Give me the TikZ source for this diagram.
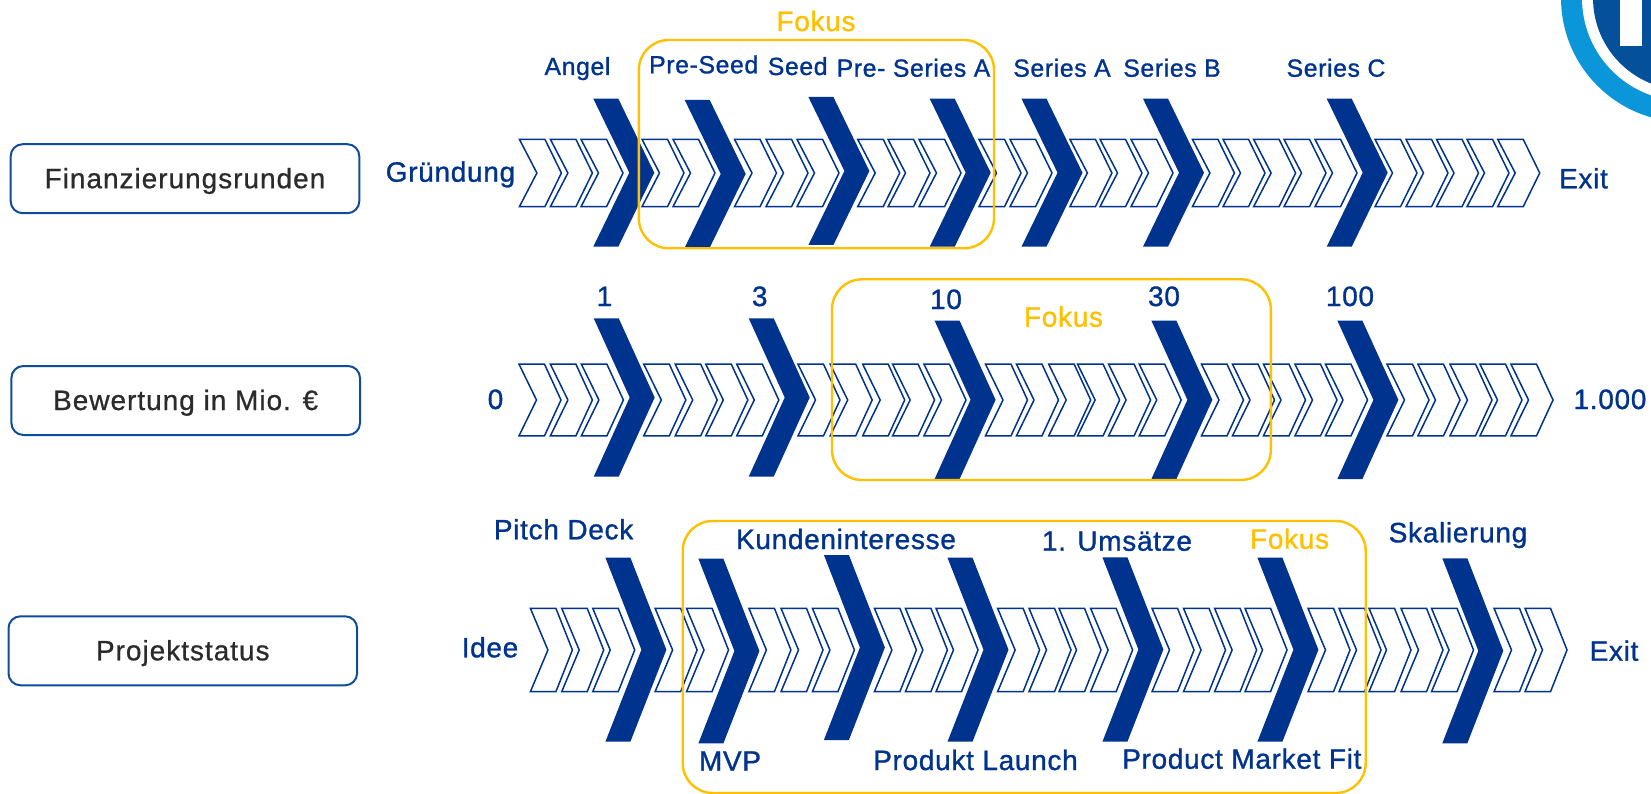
\documentclass[tikz,border=0pt]{standalone}
\usepackage{fontspec}
\setmainfont{Liberation Sans}
\newfontfamily\lblfont[FakeBold=1.1,LetterSpace=2.5]{Liberation Sans}
\newfontfamily\catfont[FakeBold=0.7,LetterSpace=3.5]{Liberation Sans}
\definecolor{navy}{HTML}{00338D}
\definecolor{amber}{HTML}{FFC000}
\definecolor{boxblue}{HTML}{0F4C9C}
\definecolor{inkdark}{HTML}{2B2B2B}
\definecolor{ringblue}{HTML}{0A96D8}
\definecolor{discblue}{HTML}{04509A}
\tikzset{
  x=1pt,y=-1pt,
  lbl/.style={text=navy,font=\lblfont\fontsize{28}{28}\selectfont,inner sep=0pt,anchor=base},
  toplbl/.style={lbl,font=\lblfont\fontsize{24.8}{24.8}\selectfont},
  fok/.style={lbl,text=amber},
  cat/.style={draw=boxblue,line width=2pt,rounded corners=12pt,fill=white,text=inkdark,font=\catfont\fontsize{28}{28}\selectfont,minimum height=69pt,inner sep=0pt,text height=19pt,text depth=0pt},
  focusbox/.style={draw=amber,line width=2.4pt,rounded corners=30pt},
  thin chevron/.style={draw=navy,line width=1.5pt,fill=white,line join=miter},
  big chevron/.style={fill=navy,draw=none},
}
% small chevron: #1 left x, #2 mid y, #3 half height
\newcommand{\sch}[3]{\draw[thin chevron] (#1,#2-#3) -- ++(25.5,0) -- (#1+42,#2) -- (#1+25.5,#2+#3) -- (#1,#2+#3) -- (#1+17.5,#2) -- cycle;}
% big chevron: #1 left x, #2 top y, #3 bottom y
\newcommand{\bch}[3]{\fill[big chevron] (#1,#2) -- (#1+25,#2) -- (#1+61,{(#2+#3)/2}) -- (#1+25,#3) -- (#1,#3) -- (#1+36,{(#2+#3)/2}) -- cycle;}
\begin{document}
\begin{tikzpicture}
\useasboundingbox (0,0) rectangle (1651,794);
% logo
\begin{scope}
\clip (0,0) rectangle (1651,794);
\fill[ringblue] (1685,-2) circle (124);
\fill[white] (1685,-2) circle (103);
\fill[discblue] (1685,-2) circle (92);
\fill[white] (1620,-5) rectangle (1642,45.7);
\end{scope}
% row 1 small
\foreach \a in {519.4,550.4,581,642,673,734.5,766,797,857.7,888,919,979,1010,1069.9,1100,1131,1192.4,1223,1253.6,1284,1315,1375,1406,1436.5,1467,1497.7}{\sch{\a}{173}{33.7}}
\foreach \a/\t/\b in {593.3/98.7/246.7,684.7/100/247.7,808.4/97/245,929.7/98.7/246.7,1021.5/98.7/246.7,1143/98.7/246.7,1326.7/98.7/246.7}{\bch{\a}{\t}{\b}}
% row 2 small
\foreach \a in {519,550.4,581.4,643.8,675.2,705.8,736.8,798,830.2,862.7,892.6,924,985.5,1016.5,1048.7,1077.6,1108.6,1139.2,1201.5,1232.5,1263.5,1295,1325.5,1387,1418,1450,1480,1511}{\sch{\a}{400}{35.8}}
\foreach \a/\t/\b in {593.7/318.3/476.7,748.7/318.3/476.7,934.6/320.7/479,1151.4/320.7/479,1337.4/320.7/479}{\bch{\a}{\t}{\b}}
% row 3 small
\foreach \a in {530.4,561.7,592.7,655.1,686.5,748.9,781,812.4,874.4,905.4,936,997.6,1029,1059,1090.6,1152,1183.5,1214.6,1245,1308,1339,1369,1401,1431.5,1494,1525}{\sch{\a}{650}{41.7}}
\foreach \a/\t/\b in {605.4/557.7/741.7,698.4/558.7/743.3,823.9/555/740,947.5/557.7/741.7,1102.4/557.3/741.7,1257.4/557.7/741.7,1442.3/558.3/743.3}{\bch{\a}{\t}{\b}}
% focus boxes
\draw[focusbox] (638.8,40) rectangle (994,248.3);
\draw[focusbox] (832,279.3) rectangle (1270.8,480);
\draw[focusbox] (682.7,521) rectangle (1365.7,793);
% category boxes
\node[cat,minimum width=348.6pt] (c1) at (185,178.7) {Finanzierungsrunden};
\node[cat,minimum width=348.6pt] (c2) at (185.7,400.5) {Bewertung in Mio. €};
\node[cat,minimum width=348.6pt] (c3) at (182.8,650.8) {Projektstatus};
% labels row 1
\node[fok] (f1) at (816,31) {Fokus};
\node[toplbl] (l1) at (577.5,75) {Angel};
\node[toplbl] (l2) at (703.7,73.3) {Pre-Seed};
\node[toplbl] (l3) at (797.7,75) {Seed};
\node[toplbl] (l4) at (913.5,76.7) {Pre- Series A};
\node[toplbl] (l5) at (1062,76.7) {Series A};
\node[toplbl] (l6) at (1172,76.7) {Series B};
\node[toplbl] (l7) at (1336,76.7) {Series C};
\node[lbl] (l8) at (450.5,181.7) {Gründung};
\node[lbl] (l9) at (1583.5,188.3) {Exit};
% labels row 2
\node[lbl] (v0) at (495.5,409) {0};
\node[lbl] (v1) at (604.5,306) {1};
\node[lbl] (v3) at (759.7,306) {3};
\node[lbl] (v10) at (946,309) {10};
\node[lbl] (v30) at (1164,306) {30};
\node[lbl] (v100) at (1350,306) {100};
\node[lbl] (v1000) at (1610,409) {1.000};
\node[fok] (f2) at (1063.5,326.7) {Fokus};
% labels row 3
\node[lbl] (p1) at (563.6,539.3) {Pitch Deck};
\node[lbl] (p2) at (490,657.3) {Idee};
\node[lbl] (p3) at (846,549) {Kundeninteresse};
\node[lbl] (p4) at (1117,550.7) {1. Umsätze};
\node[fok] (f3) at (1289.6,548.7) {Fokus};
\node[lbl] (p5) at (1458,542.3) {Skalierung};
\node[lbl] (p6) at (1614,660.7) {Exit};
\node[lbl] (p7) at (730,770.7) {MVP};
\node[lbl] (p8) at (975.5,770) {Produkt Launch};
\node[lbl] (p9) at (1241.8,768.7) {Product Market Fit};
\end{tikzpicture}
\end{document}
